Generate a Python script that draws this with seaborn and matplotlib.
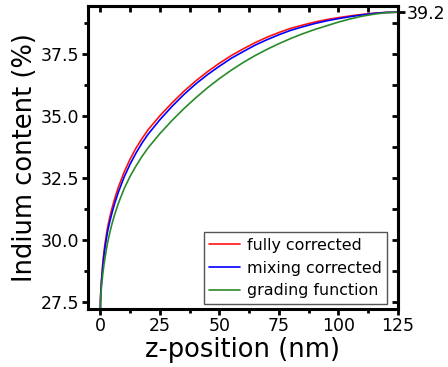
import numpy as np
import pandas as pd
import matplotlib
matplotlib.use("Agg")
import matplotlib.pyplot as plt
import seaborn as sns
from matplotlib.ticker import MultipleLocator, FormatStrFormatter

# z-position samples (nm)
z_nm = [0, 0.05, 0.1, 0.25, 0.5, 1, 1.5, 2, 3, 4, 5, 6, 7.5, 10, 12.5, 15,
        17.5, 20, 25, 30, 35, 40, 45, 50, 55, 60, 65, 70, 75, 80, 85, 90,
        95, 100, 105, 110, 115, 120, 125]

# indium content (%) for each profile
fully_corrected = [27.2, 27.55, 27.75, 28.05, 28.45, 29.05, 29.52, 29.9,
                   30.5, 30.95, 31.33, 31.67, 32.12, 32.75, 33.27, 33.72,
                   34.1, 34.45, 35.02, 35.53, 36.0, 36.42, 36.8, 37.14,
                   37.45, 37.72, 37.97, 38.19, 38.38, 38.55, 38.68, 38.8,
                   38.9, 38.98, 39.05, 39.11, 39.16, 39.19, 39.2]
mixing_corrected = [27.2, 27.52, 27.7, 27.98, 28.35, 28.92, 29.37, 29.74,
                    30.33, 30.77, 31.14, 31.48, 31.92, 32.55, 33.07, 33.52,
                    33.92, 34.27, 34.86, 35.39, 35.87, 36.3, 36.68, 37.02,
                    37.34, 37.61, 37.87, 38.09, 38.29, 38.47, 38.61, 38.74,
                    38.85, 38.94, 39.02, 39.09, 39.15, 39.19, 39.2]
grading_function = [27.2, 27.45, 27.6, 27.85, 28.15, 28.62, 29.0, 29.32,
                    29.88, 30.32, 30.7, 31.03, 31.47, 32.08, 32.58, 33.0,
                    33.38, 33.72, 34.3, 34.82, 35.3, 35.74, 36.15, 36.52,
                    36.86, 37.17, 37.45, 37.7, 37.93, 38.14, 38.33, 38.5,
                    38.65, 38.8, 38.93, 39.04, 39.12, 39.18, 39.2]

labels = ["fully corrected", "mixing corrected", "grading function"]
colors = ["#ff1010", "#0000ff", "#2a8a2a"]

df = pd.concat([
    pd.DataFrame({"z": z_nm, "In": vals, "profile": name})
    for name, vals in zip(labels, [fully_corrected, mixing_corrected, grading_function])
])

sns.set_style("ticks")
plt.rcParams["font.family"] = ["DejaVu Sans"]
plt.rcParams.update({"text.color": "black", "axes.labelcolor": "black",
                     "xtick.color": "black", "ytick.color": "black"})

fig = plt.figure(figsize=(4.48, 3.67), dpi=100)
ax = fig.add_axes([0.1964, 0.158, 0.692, 0.8257])

sns.lineplot(data=df, x="z", y="In", hue="profile", hue_order=labels,
             palette=colors, linewidth=1.2, ax=ax, sort=False, estimator=None)

ax.set_xlim(-5.2, 125)
ax.set_ylim(27.22, 39.45)
ax.xaxis.set_major_locator(MultipleLocator(25))
ax.xaxis.set_minor_locator(MultipleLocator(12.5))
ax.yaxis.set_major_locator(MultipleLocator(2.5))
ax.yaxis.set_minor_locator(MultipleLocator(1.25))
ax.yaxis.set_major_formatter(FormatStrFormatter("%.1f"))

for s in ax.spines.values():
    s.set_linewidth(2.2)
    s.set_color("black")
    s.set_visible(True)

ax.tick_params(which="both", direction="out", width=2, colors="black",
               labelsize=12.5, top=False, right=False)
ax.tick_params(which="major", length=4, pad=2)
ax.tick_params(which="minor", length=3)

# inward ticks on the top and right edges
sec_x = ax.secondary_xaxis("top")
sec_x.xaxis.set_major_locator(MultipleLocator(25))
sec_x.xaxis.set_minor_locator(MultipleLocator(12.5))
sec_x.tick_params(which="both", direction="in", width=2, length=4, labeltop=False)
sec_x.spines["top"].set_linewidth(2.2)

sec_y = ax.secondary_yaxis("right")
sec_y.yaxis.set_major_locator(MultipleLocator(2.5))
sec_y.yaxis.set_minor_locator(MultipleLocator(1.25))
sec_y.tick_params(which="both", direction="in", width=2, length=4, labelright=False)
sec_y.spines["right"].set_linewidth(2.2)

# end value marker on the right edge
end_y = ax.secondary_yaxis("right")
end_y.set_yticks([fully_corrected[-1]])
end_y.yaxis.set_major_formatter(FormatStrFormatter("%.1f"))
end_y.tick_params(which="major", direction="out", width=2, length=5,
                  labelsize=12.5, pad=1, colors="black")
end_y.yaxis.set_minor_locator(plt.NullLocator())
end_y.spines["right"].set_visible(False)

ax.set_xlabel("z-position (nm)", fontsize=18.5, labelpad=1)
ax.set_ylabel("Indium content (%)", fontsize=18.5, labelpad=2)

leg = ax.legend(loc="lower right", bbox_to_anchor=(0.9645, 0.0165),
                fontsize=11.4, frameon=True, fancybox=False,
                edgecolor="#555555", framealpha=1, borderpad=0.35,
                handlelength=1.95, handletextpad=0.4, labelspacing=0.5,
                borderaxespad=0)
leg.get_frame().set_linewidth(1.0)
leg.set_title(None)

fig.savefig("out.png", dpi=100)
